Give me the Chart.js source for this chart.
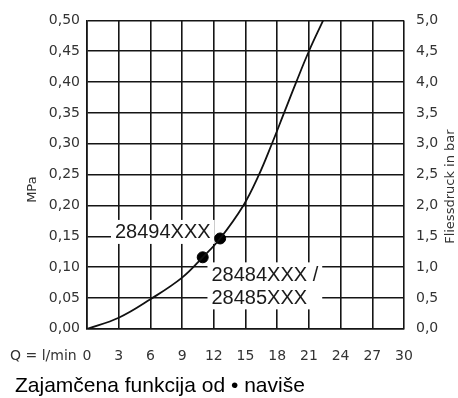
<!DOCTYPE html>
<html><head><meta charset="utf-8">
<script src="https://cdn.jsdelivr.net/npm/chart.js@4.4.1/dist/chart.umd.min.js"></script>
<style>html,body{margin:0;padding:0;background:#fff}#wrap{width:458px;height:398px}</style>
</head><body><div id="wrap"><canvas id="c" width="458" height="398"></canvas></div>
<script>
// Flow (l/min) and pressure (MPa)
const flowQ       = [0, 3, 6, 9, 10.95, 12.6, 14.8, 16.2, 17.5, 18.65, 19.8, 21.0, 22.35];
const pressureMPa = [0, 0.018, 0.048, 0.083, 0.116, 0.1465, 0.200, 0.247, 0.30, 0.35, 0.40, 0.45, 0.50];
// Marked operating points
const markerQ = [10.95, 12.6];
const markerP = [0.116, 0.1465];
// Axis ranges
const xRange  = [0, 30, 3];
const yRange  = [0, 0.5, 0.05];
const y2Range = [0, 5, 0.5];
// Texts
const xAxisLabel = 'Q = l/min';
const yAxisLabel = 'MPa';
const y2AxisLabel = 'Fliessdruck in bar';
const caption = 'Zajamčena funkcija od • naviše';
const productLabels = [
  {lines: ['28494XXX'], q: 2.65, p: 0.1555},
  {lines: ['28484XXX /', '28485XXX'], q: 11.78, p: 0.0867}
];

const tickFont = {family: '"DejaVu Sans", sans-serif', size: 14};
const tickColor = '#333';
const gridColor = '#151515';
const gridW = 1.6;

const extraText = {
  id: 'extraText',
  beforeDatasetsDraw(chart) {
    const {ctx, scales: {x, y}} = chart;
    ctx.save();
    ctx.font = '20px "Liberation Sans", Arial, sans-serif';
    ctx.textBaseline = 'middle';
    ctx.textAlign = 'left';
    const lh = 23;
    for (const lab of productLabels) {
      const px = x.getPixelForValue(lab.q), py = y.getPixelForValue(lab.p);
      const w = Math.max(...lab.lines.map(t => ctx.measureText(t).width));
      ctx.fillStyle = '#fff';
      ctx.fillRect(px - 4, py - 13, w + 8, lh * (lab.lines.length - 1) + 24);
      ctx.fillStyle = '#1a1a1a';
      lab.lines.forEach((t, i) => ctx.fillText(t, px, py + i * lh));
    }
    ctx.restore();
  },
  afterDraw(chart) {
    const {ctx, chartArea, scales: {x}} = chart;
    ctx.save();
    ctx.fillStyle = tickColor;
    ctx.font = '14px "DejaVu Sans", sans-serif';
    ctx.textBaseline = 'middle';
    ctx.textAlign = 'left';
    ctx.fillText(xAxisLabel, 10, x.top + 19 + 8.4);
    ctx.font = '13px "DejaVu Sans", sans-serif';
    ctx.textAlign = 'center';
    const cy = (chartArea.top + chartArea.bottom) / 2 + 15;
    ctx.translate(33, cy); ctx.rotate(-Math.PI / 2);
    ctx.fillText(yAxisLabel, 0, 0);
    ctx.restore();
    ctx.save();
    ctx.fillStyle = tickColor;
    ctx.font = '13px "DejaVu Sans", sans-serif';
    ctx.textBaseline = 'middle';
    ctx.textAlign = 'center';
    ctx.translate(451, cy - 3); ctx.rotate(-Math.PI / 2);
    ctx.fillText(y2AxisLabel, 0, 0);
    ctx.restore();
  }
};

new Chart(document.getElementById('c'), {
  type: 'scatter',
  data: {
    datasets: [
      {
        type: 'line',
        data: flowQ.map((q, i) => ({x: q, y: pressureMPa[i]})),
        borderColor: '#111', borderWidth: 1.8,
        pointRadius: 0, fill: false,
        tension: 0.4,
        yAxisID: 'y'
      },
      {
        type: 'scatter',
        data: markerQ.map((q, i) => ({x: q, y: markerP[i]})),
        backgroundColor: '#000', borderColor: '#000',
        pointRadius: 5.5, pointHoverRadius: 5.5,
        yAxisID: 'y'
      }
    ]
  },
  options: {
    responsive: false,
    devicePixelRatio: 1,
    animation: false,
    layout: {padding: {left: 15, top: 13, right: 0, bottom: 0}},
    plugins: {
      legend: {display: false},
      tooltip: {enabled: false},
      title: {
        display: true, text: caption, position: 'bottom', align: 'start',
        color: '#000',
        font: {family: '"Liberation Sans", Arial, sans-serif', size: 21, weight: 'normal', lineHeight: 1.15},
        padding: {top: 6, bottom: 0}
      }
    },
    scales: {
      x: {
        type: 'linear', min: xRange[0], max: xRange[1],
        ticks: {stepSize: xRange[2], font: tickFont, color: tickColor, padding: 19, maxRotation: 0},
        grid: {color: gridColor, lineWidth: gridW, drawTicks: false},
        border: {color: gridColor, width: gridW},
        afterFit(s) { s.height = 39; }
      },
      y: {
        type: 'linear', position: 'left', min: yRange[0], max: yRange[1],
        ticks: {stepSize: yRange[2], font: tickFont, color: tickColor, padding: 7,
          callback: v => v.toFixed(2).replace('.', ',')},
        grid: {color: gridColor, lineWidth: gridW, drawTicks: false},
        border: {color: gridColor, width: gridW},
        afterFit(s) { s.width = 72; }
      },
      y2: {
        type: 'linear', position: 'right', min: y2Range[0], max: y2Range[1],
        ticks: {stepSize: y2Range[2], font: tickFont, color: tickColor, padding: 12,
          callback: v => v.toFixed(1).replace('.', ',')},
        grid: {display: false, drawTicks: false},
        border: {display: false},
        afterFit(s) { s.width = 54; }
      }
    }
  },
  plugins: [extraText]
});
</script>
</body></html>
